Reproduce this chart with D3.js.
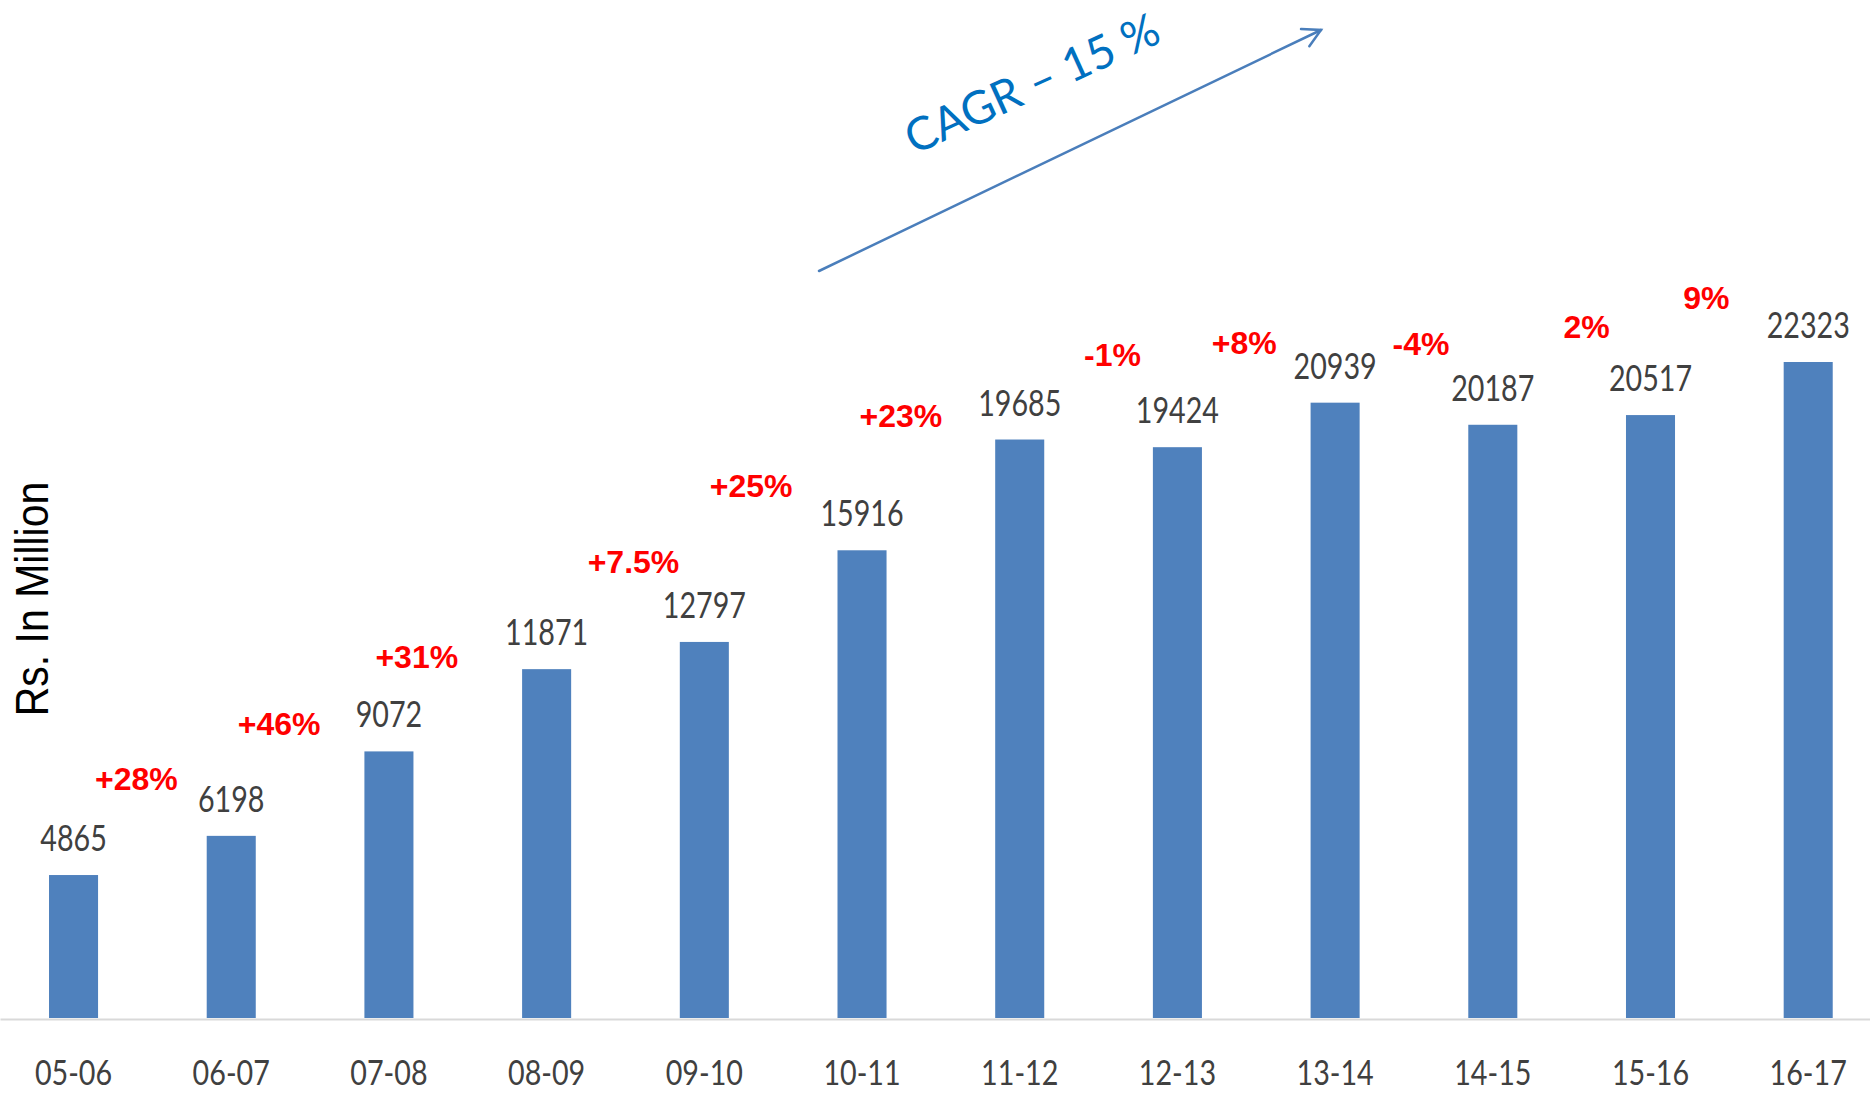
<!DOCTYPE html>
<html>
<head>
<meta charset="utf-8">
<script src="https://cdn.jsdelivr.net/npm/d3@7"></script>
<style>
  html, body { margin: 0; padding: 0; background: #ffffff; }
  svg { display: block; }
</style>
</head>
<body>
<script>
// Annual turnover, Rs. in million
const categories = ["05-06", "06-07", "07-08", "08-09", "09-10", "10-11",
                    "11-12", "12-13", "13-14", "14-15", "15-16", "16-17"];
const values = [4865, 6198, 9072, 11871, 12797, 15916,
                19685, 19424, 20939, 20187, 20517, 22323];
// Year-on-year growth, shown between consecutive bars
const growthLabels = ["+28%", "+46%", "+31%", "+7.5%", "+25%", "+23%",
                      "-1%", "+8%", "-4%", "2%", "9%"];
// Placement of each growth label: x shift from the gap between bars, baseline y
const growthPlacement = [[-16, 790], [-31, 735], [-51, 668], [8, 573], [-32, 497],
                         [-40, 427], [14, 366], [-12, 354], [7, 355], [15, 338], [-23, 309]];

const W = 1870, H = 1094;
const baseY = 1019;

const svg = d3.select("body").append("svg")
  .attr("width", W).attr("height", H);

const x = d3.scaleBand()
  .domain(categories)
  .range([0, W])
  .paddingInner(0.689)
  .paddingOuter(0.2736)
  .align(0.568);

const y = d3.scaleLinear()
  .domain([0, d3.max(values)])
  .range([baseY - 1, 362]);

const condensed = "Lato, 'Open Sans', sans-serif";

// Bars
svg.append("g").selectAll("rect")
  .data(values)
  .join("rect")
  .attr("x", (d, i) => x(categories[i]))
  .attr("y", d => y(d))
  .attr("width", x.bandwidth())
  .attr("height", d => y(0) - y(d))
  .attr("fill", "#4f81bd");

// Category axis
const axis = svg.append("g")
  .attr("transform", `translate(0,${baseY})`)
  .call(d3.axisBottom(x).tickSize(0).tickSizeOuter(0));
axis.select(".domain").attr("stroke", "#d9d9d9").attr("stroke-width", 2);
axis.selectAll(".tick text")
  .attr("y", 66).attr("dy", 0)
  .attr("transform", "scale(0.82,1)")
  .attr("font-family", condensed)
  .attr("font-size", 35)
  .attr("fill", "#404040");

// Value labels above bars
svg.append("g").selectAll("text")
  .data(values)
  .join("text")
  .attr("transform", (d, i) =>
    `translate(${x(categories[i]) + x.bandwidth() / 2},${y(d) - 24}) scale(0.775,1)`)
  .attr("text-anchor", "middle")
  .attr("font-family", condensed)
  .attr("font-size", 37)
  .attr("fill", "#404040")
  .text(d => d);

// Growth labels
svg.append("g").selectAll("text")
  .data(growthLabels)
  .join("text")
  .attr("x", (d, i) => {
    const mid = (x(categories[i]) + x(categories[i + 1])) / 2 + x.bandwidth() / 2;
    return mid + growthPlacement[i][0];
  })
  .attr("y", (d, i) => growthPlacement[i][1])
  .attr("text-anchor", "middle")
  .attr("font-family", "'Liberation Sans', Arial, sans-serif")
  .attr("font-weight", "bold")
  .attr("font-size", 32)
  .attr("fill", "#ff0000")
  .text(d => d);

// Y-axis title
svg.append("text")
  .attr("transform", "translate(48,599) scale(1.12,1) rotate(-90)")
  .attr("text-anchor", "middle")
  .attr("font-family", "'Liberation Sans', Arial, sans-serif")
  .attr("font-size", 41)
  .attr("fill", "#000000")
  .text("Rs. In Million");

// CAGR trend arrow
const arrowStart = [819, 271], arrowEnd = [1321, 30];
const ang = Math.atan2(arrowEnd[1] - arrowStart[1], arrowEnd[0] - arrowStart[0]);
const armLen = 20, armAng = 0.5;
const arrow = svg.append("g")
  .attr("fill", "none")
  .attr("stroke", "#4a7ebb")
  .attr("stroke-width", 2.5)
  .attr("stroke-linecap", "round");
arrow.append("path")
  .attr("d", d3.line()([arrowStart, arrowEnd]));
arrow.append("path")
  .attr("stroke-linejoin", "miter")
  .attr("d", d3.line()([
    [arrowEnd[0] - armLen * Math.cos(ang - armAng), arrowEnd[1] - armLen * Math.sin(ang - armAng)],
    arrowEnd,
    [arrowEnd[0] - armLen * Math.cos(ang + armAng), arrowEnd[1] - armLen * Math.sin(ang + armAng)]
  ]));

svg.append("text")
  .attr("transform", "translate(914,155) rotate(-24.5)")
  .attr("font-family", condensed)
  .attr("font-size", 46)
  .attr("textLength", 274)
  .attr("lengthAdjust", "spacingAndGlyphs")
  .attr("fill", "#0070c0")
  .text("CAGR \u2013 15 %");
</script>
</body>
</html>
